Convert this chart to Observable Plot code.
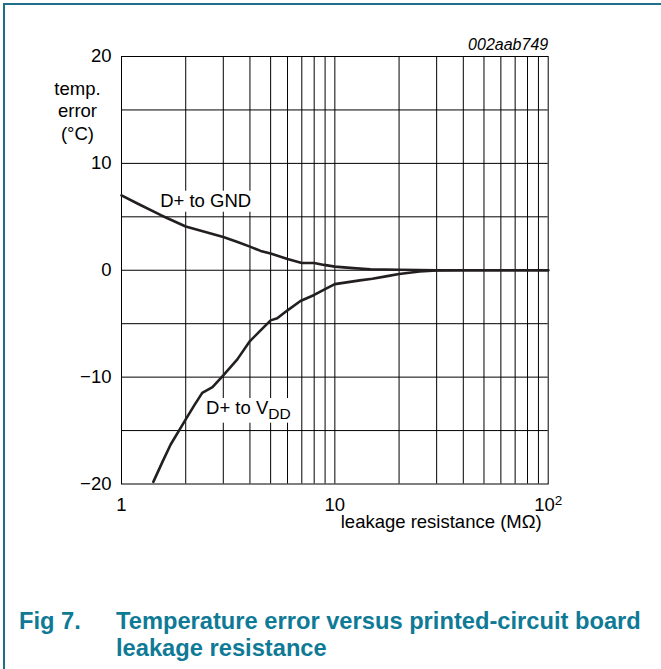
<!DOCTYPE html>
<html>
<head>
<meta charset="utf-8">
<script src="https://cdn.jsdelivr.net/npm/d3@7"></script>
<script src="https://cdn.jsdelivr.net/npm/@observablehq/plot@0.6"></script>
<style>
  body { margin: 0; background: #fff; }
  #wrap { position: relative; width: 661px; height: 669px; overflow: hidden; font-family: "Liberation Sans", Arial, sans-serif; background: #fff; }
  #chart { position: absolute; left: 0; top: 0; }
  #bl { position: absolute; left: 3px; top: 3px; width: 2px; height: 666px; background: #1d6f8a; }
  #bt { position: absolute; left: 3px; top: 3px; width: 658px; height: 2px; background: #1d6f8a; }
  .t { position: absolute; color: #0f7a96; font-weight: bold; font-size: 23.7px; line-height: 27px; white-space: nowrap; }
</style>
</head>
<body>
<div id="wrap">
  <div id="chart"></div>
  <div id="bl"></div>
  <div id="bt"></div>
  <div class="t" style="left:19px; top:608px;">Fig 7.</div>
  <div class="t" style="left:116px; top:608px;">Temperature error versus printed-circuit board<br>leakage resistance</div>
</div>
<script>
// ---- data ----
const gndX = [1, 1.2, 1.53, 2, 2.62, 3, 3.5, 4, 4.49, 5, 6, 7, 8, 8.9, 10, 12.2, 14.7, 20, 30, 50, 100];
const gndY = [7.0, 6.2, 5.15, 4.09, 3.43, 3.12, 2.65, 2.21, 1.81, 1.56, 1.06, 0.68, 0.68, 0.5, 0.34, 0.2, 0.1, 0.04, 0, 0, 0];

const vddX = [1.41, 1.55, 1.70, 2, 2.2, 2.39, 2.67, 3, 3.49, 4, 4.5, 5, 5.37, 6, 6.9, 8, 9, 10, 13.1, 15, 17.6, 20, 25, 30, 40, 50, 100];
const vddY = [-19.8, -18.0, -16.3, -13.96, -12.6, -11.47, -10.94, -9.84, -8.34, -6.63, -5.6, -4.69, -4.5, -3.75, -2.88, -2.31, -1.76, -1.3, -0.95, -0.8, -0.55, -0.35, -0.12, -0.02, 0, 0, 0];

const xGrid = [2, 3, 4, 5, 6, 7, 8, 9, 10, 20, 30, 40, 50, 60, 70, 80, 90];
const yGrid = [-15, -10, -5, 0, 5, 10, 15];
const xTicks = [1, 10, 100];
const xTickLabels = ["1", "10", "10²"];
const yTicks = [-20, -10, 0, 10, 20];

const seriesLabels = ["D+ to GND", "D+ to VDD"];
const figId = "002aab749";
const yLabel = "temp.\nerror\n(°C)";
const xLabel = "leakage resistance (MΩ)";

const gnd = gndX.map((x, i) => ({x, y: gndY[i]}));
const vdd = vddX.map((x, i) => ({x, y: vddY[i]}));

const curveColor = "#231f20";
const fs = 18.5;

const plot = Plot.plot({
  width: 661,
  height: 590,
  marginLeft: 121,
  marginRight: 113.3,
  marginTop: 56,
  marginBottom: 106.5,
  style: { fontFamily: '"Liberation Sans", Arial, sans-serif', fontSize: fs + "px", color: "#000", background: "transparent", overflow: "visible" },
  x: { type: "log", domain: [1, 100], ticks: xTicks, tickSize: 0, tickPadding: 14,
       tickFormat: d => xTickLabels[xTicks.indexOf(d)], label: null },
  y: { domain: [-20, 20], ticks: yTicks, tickSize: 0, tickPadding: 10, label: null },
  marks: [
    Plot.ruleX(xGrid, { stroke: "#000", strokeWidth: 1 }),
    Plot.ruleY(yGrid, { stroke: "#000", strokeWidth: 1 }),
    Plot.frame({ stroke: "#000", strokeWidth: 1 }),
    Plot.text([seriesLabels[0]], { x: 2.48, y: 6.5, text: d => d, textAnchor: "middle", lineAnchor: "middle", fontSize: fs, fill: "#000" }),
    Plot.text([seriesLabels[1]], { x: 2.49, y: -12.9, text: d => d, textAnchor: "start", lineAnchor: "middle", fontSize: fs, fill: "#000" }),
    Plot.line(gnd, { x: "x", y: "y", stroke: curveColor, strokeWidth: 2.6, strokeLinejoin: "round" }),
    Plot.line(vdd, { x: "x", y: "y", stroke: curveColor, strokeWidth: 2.6, strokeLinejoin: "round" }),
    Plot.text([yLabel], { frameAnchor: "top-left", dx: -44, dy: 23, text: d => d, textAnchor: "middle", lineAnchor: "top", lineHeight: 1.2, fontSize: fs, fill: "#000" }),
    Plot.text([xLabel], { frameAnchor: "bottom-right", dx: -6.5, dy: 43.5, text: d => d, textAnchor: "end", lineAnchor: "bottom", fontSize: fs, fill: "#000" }),
    Plot.text([figId], { frameAnchor: "top-right", dx: 0, dy: -7, text: d => d, textAnchor: "end", lineAnchor: "bottom", fontSize: 16, fontStyle: "italic", fill: "#000" })
  ]
});

document.getElementById("chart").appendChild(plot);

// post-processing: superscript, subscript and white label boxes
const svg = d3.select(plot);
svg.selectAll("text").each(function () {
  const el = d3.select(this);
  const txt = this.textContent;
  if (txt === "10²") {
    el.text("10");
    el.append("tspan").attr("dy", "-0.42em").attr("font-size", "13.5px").text("2");
  }
  if (txt === seriesLabels[1]) {
    el.text("D+ to V");
    el.append("tspan").attr("dy", "0.3em").attr("font-size", "15.5px").text("DD");
  }
});
svg.selectAll("text").each(function () {
  const txt = this.textContent;
  if (txt === seriesLabels[0] || txt === "D+ to VDD") {
    const b = this.getBBox();
    const pad = 3;
    const rect = document.createElementNS("http://www.w3.org/2000/svg", "rect");
    rect.setAttribute("x", b.x - pad);
    rect.setAttribute("y", b.y + 1);
    rect.setAttribute("width", b.width + 2 * pad);
    rect.setAttribute("height", b.height);
    rect.setAttribute("fill", "#fff");
    const tr = this.getAttribute("transform");
    if (tr) rect.setAttribute("transform", tr);
    this.parentNode.insertBefore(rect, this);
  }
});
</script>
</body>
</html>
